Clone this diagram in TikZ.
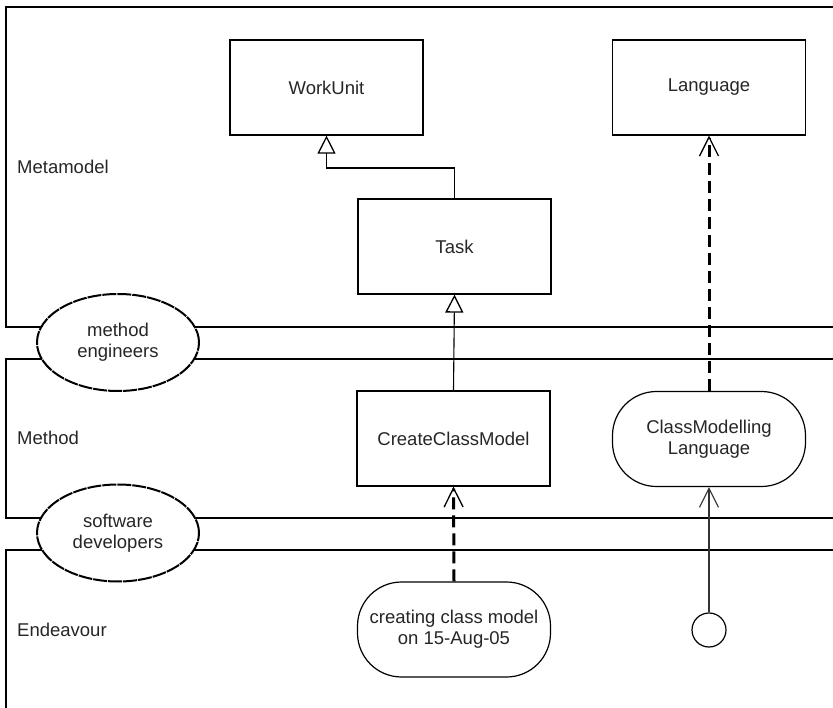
\documentclass[tikz,border=0pt]{standalone}
\usepackage{fontspec}
\setmainfont{Liberation Sans}
\usetikzlibrary{arrows.meta,shapes.geometric}
\begin{document}
\begin{tikzpicture}[x=1pt,y=-1pt,
  every node/.style={font=\fontsize{18.5}{21}\selectfont, text=black!85},
  box/.style={draw, line width=1.2pt, minimum width=193pt, minimum height=95pt, inner sep=0pt, align=center},
  stadium/.style={box, rounded corners=44pt},
  actor/.style={draw, ellipse, line width=2pt, dash pattern=on 14pt off 1pt, fill=white, minimum width=162pt, minimum height=97pt, inner sep=0pt, align=center},
  frame/.style={line width=1.4pt},
  lbl/.style={anchor=west, inner sep=0pt},
  dep/.style={line width=3pt, dash pattern=on 12pt off 6pt, -{Straight Barb[length=19pt,width=19pt,line width=1.3pt]}},
  assoc/.style={line width=1.1pt, draw=black!80, -{Straight Barb[length=19pt,width=19pt]}},
  gen/.style={line width=1.1pt, -{Triangle[open,length=18pt,width=18pt,line width=1.3pt]}}
]
\useasboundingbox (0,0) rectangle (833,708);
% swimlane frames
\draw[frame] (833,7) -- (6,7) -- (6,327) -- (833,327);
\draw[frame] (833,359) -- (6,359) -- (6,518) -- (833,518);
\draw[frame] (833,550) -- (6,550) -- (6,708);
% lane labels
\node[lbl] (lmeta) at (17,167) {Metamodel};
\node[lbl] (lmethod) at (17,438) {Method};
\node[lbl] (lend) at (17,630) {Endeavour};
% actors
\node[actor] (me) at (118,342.5) {method\\engineers};
\node[actor] (sd) at (118,533) {software\\developers};
% classes
\node[box] (wu) at (326.5,87.5) {WorkUnit};
\node[box] (lang) at (709,87.5) {Language};
\node[box] (task) at (454.5,246.5) {Task};
\node[box] (ccm) at (453.5,438.5) {CreateClassModel};
\node[stadium] (cml) at (709,439) {ClassModelling\\Language};
\node[stadium] (cr) at (454,629.5) {creating class model\\on 15-Aug-05};
\node[draw, circle, line width=1.2pt, minimum size=34pt, inner sep=0pt] (circ) at (709,630) {};
% connectors
\draw[gen] (task.north) -- (task.north |- 0,168) -| (wu.south);
\draw[gen] (ccm.north) -- (task.south);
\draw[dep] (cml.north) -- (lang.south);
\draw[dep] (cr.north) -- (ccm.south);
\draw[assoc] (circ.north) -- (cml.south);
\end{tikzpicture}
\end{document}
